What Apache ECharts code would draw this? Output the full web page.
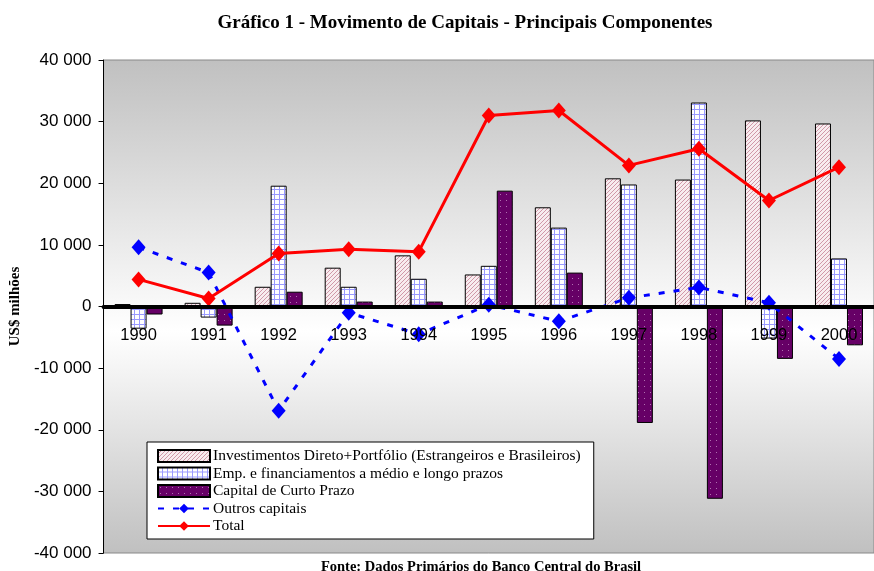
<!DOCTYPE html>
<html>
<head>
<meta charset="utf-8">
<script src="https://cdn.jsdelivr.net/npm/echarts@6/dist/echarts.min.js"></script>
<style>
  html, body { margin: 0; padding: 0; background: #fff; }
  #chart { width: 874px; height: 571px; }
</style>
</head>
<body>
<div id="chart"></div>
<script>
// dados (US$ milhões)
const anos = ['1990', '1991', '1992', '1993', '1994', '1995', '1996', '1997', '1998', '1999', '2000'];
const investimentos = [400, 600, 3200, 6300, 8300, 5200, 16100, 20800, 20600, 30200, 29700];
const emprestimos = [-3600, -1800, 19600, 3200, 4500, 6600, 12800, 19800, 33100, -5200, 7800];
const curtoPrazo = [-1300, -3100, 2400, 800, 800, 18800, 5500, -18900, -31200, -8500, -6300];
const outros = [9600, 5500, -16900, -1000, -4500, 300, -2400, 1400, 3100, 600, -8500];
const total = [4400, 1300, 8600, 9300, 8900, 31000, 31800, 22900, 25600, 17200, 22600];

// texturas das barras
function makePattern(size, draw) {
  const c = document.createElement('canvas');
  c.width = size; c.height = size;
  const ctx = c.getContext('2d');
  draw(ctx);
  return { image: c, repeat: 'repeat' };
}
const hatchPink = makePattern(4, function (ctx) {
  ctx.fillStyle = '#f8ecef';
  ctx.fillRect(0, 0, 4, 4);
  ctx.fillStyle = '#d098a8';
  for (let i = 0; i < 4; i++) ctx.fillRect(i, 3 - i, 1, 1);
});
const gridBlue = makePattern(5, function (ctx) {
  ctx.fillStyle = '#ffffff';
  ctx.fillRect(0, 0, 5, 5);
  ctx.fillStyle = '#9a9aff';
  ctx.fillRect(0, 4, 5, 1);
  ctx.fillRect(4, 0, 1, 5);
});
const dotsPurple = makePattern(6, function (ctx) {
  ctx.fillStyle = '#660066';
  ctx.fillRect(0, 0, 6, 6);
  ctx.fillStyle = '#b070b0';
  ctx.fillRect(2, 2, 1, 1);
});

function fmt(v) {
  return String(v).replace(/\B(?=(\d{3})+(?!\d))/g, ' ');
}

const chart = echarts.init(document.getElementById('chart'));
const serif = 'Liberation Serif';
const barBorder = { borderColor: '#000', borderWidth: 1 };

chart.setOption({
  animation: false,
  title: [
    {
      text: 'Gráfico 1 - Movimento de Capitais - Principais Componentes',
      left: 460, top: 9, textAlign: 'center',
      textStyle: { fontFamily: serif, fontSize: 19, fontWeight: 'bold', color: '#000' }
    },
    {
      text: 'Fonte: Dados Primários do Banco Central do Brasil',
      left: 476, top: 555, textAlign: 'center',
      textStyle: { fontFamily: serif, fontSize: 14.5, fontWeight: 'bold', color: '#000' }
    }
  ],
  grid: {
    left: 102, right: 0, top: 60, bottom: 18,
    show: true,
    borderColor: '#888', borderWidth: 1,
    backgroundColor: new echarts.graphic.LinearGradient(0, 0, 0, 1, [
      { offset: 0, color: '#c0c0c0' },
      { offset: 0.55, color: '#ffffff' },
      { offset: 1, color: '#c0c0c0' }
    ])
  },
  legend: {
    orient: 'vertical',
    left: 147, top: 442,
    padding: [6, 13, 5, 10],
    itemGap: 1.5,
    itemWidth: 52, itemHeight: 12,
    backgroundColor: '#fff',
    borderColor: '#000', borderWidth: 1,
    textStyle: { fontFamily: serif, fontSize: 15.5, color: '#000', padding: [0, 0, 0, -2] },
    data: [
      { name: 'Investimentos Direto+Portfólio (Estrangeiros e Brasileiros)', icon: 'rect' },
      { name: 'Emp. e financiamentos a médio e longo prazos', icon: 'rect' },
      { name: 'Capital de Curto Prazo', icon: 'rect' },
      'Outros capitais',
      'Total'
    ]
  },
  xAxis: {
    type: 'category',
    data: anos,
    z: 10,
    offset: -246.5,
    axisLine: { onZero: false, lineStyle: { color: '#000', width: 4 } },
    axisTick: { show: false },
    axisLabel: { fontFamily: 'Liberation Sans', fontSize: 16.5, color: '#000', margin: 20 }
  },
  yAxis: {
    type: 'value',
    min: -40000, max: 40000, interval: 10000,
    name: 'US$ milhões',
    nameLocation: 'middle',
    nameRotate: 90,
    nameGap: 72,
    nameTextStyle: { fontFamily: serif, fontSize: 15, fontWeight: 'bold', color: '#000' },
    axisLine: { show: true, lineStyle: { color: '#000', width: 1 } },
    axisTick: { show: true, length: 5, lineStyle: { color: '#000' } },
    splitLine: { show: false },
    axisLabel: {
      fontFamily: 'Liberation Sans', fontSize: 17, color: '#000', margin: 12,
      formatter: fmt
    }
  },
  series: [
    {
      name: 'Investimentos Direto+Portfólio (Estrangeiros e Brasileiros)',
      type: 'bar',
      data: investimentos,
      barWidth: 16, barGap: '0%',
      itemStyle: Object.assign({ color: hatchPink }, barBorder)
    },
    {
      name: 'Emp. e financiamentos a médio e longo prazos',
      type: 'bar',
      data: emprestimos,
      barWidth: 16, barGap: '0%',
      itemStyle: Object.assign({ color: gridBlue }, barBorder)
    },
    {
      name: 'Capital de Curto Prazo',
      type: 'bar',
      data: curtoPrazo,
      barWidth: 16, barGap: '0%',
      itemStyle: Object.assign({ color: dotsPurple }, barBorder)
    },
    {
      name: 'Outros capitais',
      type: 'line',
      data: outros,
      z: 5,
      symbol: 'diamond',
      symbolSize: [14, 16],
      itemStyle: { color: '#0000ff' },
      lineStyle: { color: '#0000ff', width: 3, type: [6, 9] }
    },
    {
      name: 'Total',
      type: 'line',
      data: total,
      z: 6,
      symbol: 'diamond',
      symbolSize: [14, 16],
      itemStyle: { color: '#ff0000' },
      lineStyle: { color: '#ff0000', width: 3 }
    }
  ]
});
</script>
</body>
</html>
